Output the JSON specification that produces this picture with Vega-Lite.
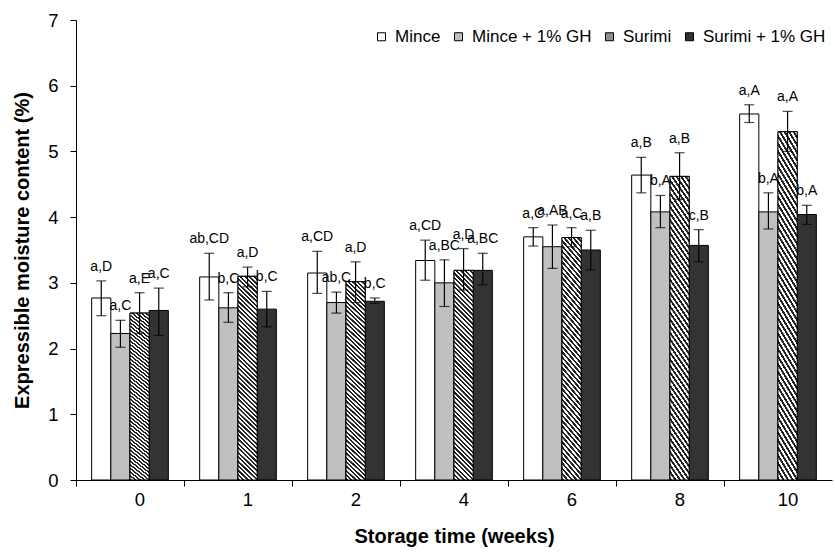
{
  "$schema": "https://vega.github.io/schema/vega-lite/v6.json",
  "width": 756,
  "height": 460,
  "autosize": {"type": "none"},
  "padding": {"left": 76, "top": 20, "right": 3, "bottom": 72},
  "background": "white",
  "config": {
    "view": {"stroke": null},
    "font": "Liberation Sans",
    "axis": {"domainColor": "black", "tickColor": "black", "labelColor": "black", "titleColor": "black", "grid": false}
  },
  "data": {
    "values": [
      {"week": 0, "treatment": "Mince", "mean": 2.77, "lo": 2.50, "hi": 3.03, "sig": "a,D"},
      {"week": 0, "treatment": "Mince + 1% GH", "mean": 2.23, "lo": 2.02, "hi": 2.43, "sig": "a,C"},
      {"week": 0, "treatment": "Surimi", "mean": 2.54, "lo": 2.23, "hi": 2.85, "sig": "a,E"},
      {"week": 0, "treatment": "Surimi + 1% GH", "mean": 2.58, "lo": 2.20, "hi": 2.92, "sig": "a,C"},
      {"week": 1, "treatment": "Mince", "mean": 3.09, "lo": 2.74, "hi": 3.45, "sig": "ab,CD"},
      {"week": 1, "treatment": "Mince + 1% GH", "mean": 2.62, "lo": 2.40, "hi": 2.85, "sig": "b,C"},
      {"week": 1, "treatment": "Surimi", "mean": 3.10, "lo": 2.94, "hi": 3.24, "sig": "a,D"},
      {"week": 1, "treatment": "Surimi + 1% GH", "mean": 2.60, "lo": 2.33, "hi": 2.87, "sig": "b,C"},
      {"week": 2, "treatment": "Mince", "mean": 3.15, "lo": 2.84, "hi": 3.48, "sig": "a,CD"},
      {"week": 2, "treatment": "Mince + 1% GH", "mean": 2.70, "lo": 2.54, "hi": 2.86, "sig": "ab,C"},
      {"week": 2, "treatment": "Surimi", "mean": 3.02, "lo": 2.70, "hi": 3.32, "sig": "a,D"},
      {"week": 2, "treatment": "Surimi + 1% GH", "mean": 2.72, "lo": 2.69, "hi": 2.77, "sig": "b,C"},
      {"week": 4, "treatment": "Mince", "mean": 3.34, "lo": 3.04, "hi": 3.65, "sig": "a,CD"},
      {"week": 4, "treatment": "Mince + 1% GH", "mean": 3.00, "lo": 2.64, "hi": 3.35, "sig": "a,BC"},
      {"week": 4, "treatment": "Surimi", "mean": 3.19, "lo": 2.89, "hi": 3.52, "sig": "a,D"},
      {"week": 4, "treatment": "Surimi + 1% GH", "mean": 3.19, "lo": 2.97, "hi": 3.45, "sig": "a,BC"},
      {"week": 6, "treatment": "Mince", "mean": 3.70, "lo": 3.56, "hi": 3.84, "sig": "a,C"},
      {"week": 6, "treatment": "Mince + 1% GH", "mean": 3.55, "lo": 3.22, "hi": 3.88, "sig": "a,AB"},
      {"week": 6, "treatment": "Surimi", "mean": 3.69, "lo": 3.55, "hi": 3.84, "sig": "a,C"},
      {"week": 6, "treatment": "Surimi + 1% GH", "mean": 3.50, "lo": 3.20, "hi": 3.80, "sig": "a,B"},
      {"week": 8, "treatment": "Mince", "mean": 4.64, "lo": 4.37, "hi": 4.91, "sig": "a,B"},
      {"week": 8, "treatment": "Mince + 1% GH", "mean": 4.08, "lo": 3.84, "hi": 4.33, "sig": "b,A"},
      {"week": 8, "treatment": "Surimi", "mean": 4.62, "lo": 4.27, "hi": 4.98, "sig": "a,B"},
      {"week": 8, "treatment": "Surimi + 1% GH", "mean": 3.57, "lo": 3.32, "hi": 3.81, "sig": "c,B"},
      {"week": 10, "treatment": "Mince", "mean": 5.57, "lo": 5.44, "hi": 5.71, "sig": "a,A"},
      {"week": 10, "treatment": "Mince + 1% GH", "mean": 4.08, "lo": 3.82, "hi": 4.37, "sig": "b,A"},
      {"week": 10, "treatment": "Surimi", "mean": 5.30, "lo": 5.00, "hi": 5.61, "sig": "a,A"},
      {"week": 10, "treatment": "Surimi + 1% GH", "mean": 4.04, "lo": 3.89, "hi": 4.18, "sig": "b,A"}
    ]
  },
  "encoding": {
    "x": {
      "field": "week",
      "type": "ordinal",
      "scale": {"paddingInner": 0.29, "paddingOuter": 0.145},
      "axis": {
        "title": "Storage time (weeks)",
        "titleFontSize": 20,
        "titleFontWeight": "bold",
        "titlePadding": 18,
        "labelFontSize": 18.5,
        "labelAngle": 0,
        "bandPosition": -0.204,
        "labelOffset": 10,
        "tickSize": 6,
        "labelPadding": 4
      }
    },
    "xOffset": {
      "field": "treatment",
      "type": "nominal",
      "sort": ["Mince", "Mince + 1% GH", "Surimi", "Surimi + 1% GH"],
      "scale": {"paddingInner": 0, "paddingOuter": 0}
    }
  },
  "layer": [
    {
      "mark": {"type": "bar", "stroke": "black", "strokeWidth": 1},
      "encoding": {
        "y": {
          "field": "mean",
          "type": "quantitative",
          "title": "Expressible moisture content (%)",
          "scale": {"domain": [0, 7]},
          "axis": {
            "values": [0, 1, 2, 3, 4, 5, 6, 7],
            "format": "d",
            "labelFontSize": 18.5,
            "tickSize": 6,
            "labelPadding": 12,
            "titleFontSize": 20,
            "titleFontWeight": "bold",
            "titlePadding": 15
          }
        },
        "fill": {
          "field": "treatment",
          "type": "nominal",
          "sort": ["Mince", "Mince + 1% GH", "Surimi", "Surimi + 1% GH"],
          "scale": {
            "domain": ["Mince", "Mince + 1% GH", "Surimi", "Surimi + 1% GH"],
            "range": ["#ffffff", "#c0c0c0", "#8f8f8f", "#333333"]
          },
          "legend": {
            "title": null,
            "orient": "none",
            "legendX": 297,
            "legendY": 8,
            "direction": "horizontal",
            "symbolType": "square",
            "symbolSize": 64,
            "symbolStrokeColor": "black",
            "symbolStrokeWidth": 1,
            "labelFontSize": 17,
            "labelColor": "black",
            "labelOffset": 5,
            "columnPadding": 9
          }
        }
      }
    },
    {
      "transform": [{"filter": "datum.treatment === 'Surimi'"}],
      "mark": {
        "type": "bar",
        "stroke": "black",
        "strokeWidth": 1,
        "fill": {
          "gradient": "linear",
          "x1": 0, "y1": 1, "x2": 0.0993, "y2": -0.0826,
          "stops": [
            {"offset": 0, "color": "#222"}, {"offset": 0.009, "color": "#222"}, {"offset": 0.01, "color": "#fff"}, {"offset": 0.019, "color": "#fff"},
            {"offset": 0.02, "color": "#222"}, {"offset": 0.029, "color": "#222"}, {"offset": 0.03, "color": "#fff"}, {"offset": 0.039, "color": "#fff"},
            {"offset": 0.04, "color": "#222"}, {"offset": 0.049, "color": "#222"}, {"offset": 0.05, "color": "#fff"}, {"offset": 0.059, "color": "#fff"},
            {"offset": 0.06, "color": "#222"}, {"offset": 0.069, "color": "#222"}, {"offset": 0.07, "color": "#fff"}, {"offset": 0.079, "color": "#fff"},
            {"offset": 0.08, "color": "#222"}, {"offset": 0.089, "color": "#222"}, {"offset": 0.09, "color": "#fff"}, {"offset": 0.099, "color": "#fff"},
            {"offset": 0.10, "color": "#222"}, {"offset": 0.109, "color": "#222"}, {"offset": 0.11, "color": "#fff"}, {"offset": 0.119, "color": "#fff"},
            {"offset": 0.12, "color": "#222"}, {"offset": 0.129, "color": "#222"}, {"offset": 0.13, "color": "#fff"}, {"offset": 0.139, "color": "#fff"},
            {"offset": 0.14, "color": "#222"}, {"offset": 0.149, "color": "#222"}, {"offset": 0.15, "color": "#fff"}, {"offset": 0.159, "color": "#fff"},
            {"offset": 0.16, "color": "#222"}, {"offset": 0.169, "color": "#222"}, {"offset": 0.17, "color": "#fff"}, {"offset": 0.179, "color": "#fff"},
            {"offset": 0.18, "color": "#222"}, {"offset": 0.189, "color": "#222"}, {"offset": 0.19, "color": "#fff"}, {"offset": 0.199, "color": "#fff"},
            {"offset": 0.20, "color": "#222"}, {"offset": 0.209, "color": "#222"}, {"offset": 0.21, "color": "#fff"}, {"offset": 0.219, "color": "#fff"},
            {"offset": 0.22, "color": "#222"}, {"offset": 0.229, "color": "#222"}, {"offset": 0.23, "color": "#fff"}, {"offset": 0.239, "color": "#fff"},
            {"offset": 0.24, "color": "#222"}, {"offset": 0.249, "color": "#222"}, {"offset": 0.25, "color": "#fff"}, {"offset": 0.259, "color": "#fff"},
            {"offset": 0.26, "color": "#222"}, {"offset": 0.269, "color": "#222"}, {"offset": 0.27, "color": "#fff"}, {"offset": 0.279, "color": "#fff"},
            {"offset": 0.28, "color": "#222"}, {"offset": 0.289, "color": "#222"}, {"offset": 0.29, "color": "#fff"}, {"offset": 0.299, "color": "#fff"},
            {"offset": 0.30, "color": "#222"}, {"offset": 0.309, "color": "#222"}, {"offset": 0.31, "color": "#fff"}, {"offset": 0.319, "color": "#fff"},
            {"offset": 0.32, "color": "#222"}, {"offset": 0.329, "color": "#222"}, {"offset": 0.33, "color": "#fff"}, {"offset": 0.339, "color": "#fff"},
            {"offset": 0.34, "color": "#222"}, {"offset": 0.349, "color": "#222"}, {"offset": 0.35, "color": "#fff"}, {"offset": 0.359, "color": "#fff"},
            {"offset": 0.36, "color": "#222"}, {"offset": 0.369, "color": "#222"}, {"offset": 0.37, "color": "#fff"}, {"offset": 0.379, "color": "#fff"},
            {"offset": 0.38, "color": "#222"}, {"offset": 0.389, "color": "#222"}, {"offset": 0.39, "color": "#fff"}, {"offset": 0.399, "color": "#fff"},
            {"offset": 0.40, "color": "#222"}, {"offset": 0.409, "color": "#222"}, {"offset": 0.41, "color": "#fff"}, {"offset": 0.419, "color": "#fff"},
            {"offset": 0.42, "color": "#222"}, {"offset": 0.429, "color": "#222"}, {"offset": 0.43, "color": "#fff"}, {"offset": 0.439, "color": "#fff"},
            {"offset": 0.44, "color": "#222"}, {"offset": 0.449, "color": "#222"}, {"offset": 0.45, "color": "#fff"}, {"offset": 0.459, "color": "#fff"},
            {"offset": 0.46, "color": "#222"}, {"offset": 0.469, "color": "#222"}, {"offset": 0.47, "color": "#fff"}, {"offset": 0.479, "color": "#fff"},
            {"offset": 0.48, "color": "#222"}, {"offset": 0.489, "color": "#222"}, {"offset": 0.49, "color": "#fff"}, {"offset": 0.499, "color": "#fff"},
            {"offset": 0.50, "color": "#222"}, {"offset": 0.509, "color": "#222"}, {"offset": 0.51, "color": "#fff"}, {"offset": 0.519, "color": "#fff"},
            {"offset": 0.52, "color": "#222"}, {"offset": 0.529, "color": "#222"}, {"offset": 0.53, "color": "#fff"}, {"offset": 0.539, "color": "#fff"},
            {"offset": 0.54, "color": "#222"}, {"offset": 0.549, "color": "#222"}, {"offset": 0.55, "color": "#fff"}, {"offset": 0.559, "color": "#fff"},
            {"offset": 0.56, "color": "#222"}, {"offset": 0.569, "color": "#222"}, {"offset": 0.57, "color": "#fff"}, {"offset": 0.579, "color": "#fff"},
            {"offset": 0.58, "color": "#222"}, {"offset": 0.589, "color": "#222"}, {"offset": 0.59, "color": "#fff"}, {"offset": 0.599, "color": "#fff"},
            {"offset": 0.60, "color": "#222"}, {"offset": 0.609, "color": "#222"}, {"offset": 0.61, "color": "#fff"}, {"offset": 0.619, "color": "#fff"},
            {"offset": 0.62, "color": "#222"}, {"offset": 0.629, "color": "#222"}, {"offset": 0.63, "color": "#fff"}, {"offset": 0.639, "color": "#fff"},
            {"offset": 0.64, "color": "#222"}, {"offset": 0.649, "color": "#222"}, {"offset": 0.65, "color": "#fff"}, {"offset": 0.659, "color": "#fff"},
            {"offset": 0.66, "color": "#222"}, {"offset": 0.669, "color": "#222"}, {"offset": 0.67, "color": "#fff"}, {"offset": 0.679, "color": "#fff"},
            {"offset": 0.68, "color": "#222"}, {"offset": 0.689, "color": "#222"}, {"offset": 0.69, "color": "#fff"}, {"offset": 0.699, "color": "#fff"},
            {"offset": 0.70, "color": "#222"}, {"offset": 0.709, "color": "#222"}, {"offset": 0.71, "color": "#fff"}, {"offset": 0.719, "color": "#fff"},
            {"offset": 0.72, "color": "#222"}, {"offset": 0.729, "color": "#222"}, {"offset": 0.73, "color": "#fff"}, {"offset": 0.739, "color": "#fff"},
            {"offset": 0.74, "color": "#222"}, {"offset": 0.749, "color": "#222"}, {"offset": 0.75, "color": "#fff"}, {"offset": 0.759, "color": "#fff"},
            {"offset": 0.76, "color": "#222"}, {"offset": 0.769, "color": "#222"}, {"offset": 0.77, "color": "#fff"}, {"offset": 0.779, "color": "#fff"},
            {"offset": 0.78, "color": "#222"}, {"offset": 0.789, "color": "#222"}, {"offset": 0.79, "color": "#fff"}, {"offset": 0.799, "color": "#fff"},
            {"offset": 0.80, "color": "#222"}, {"offset": 0.809, "color": "#222"}, {"offset": 0.81, "color": "#fff"}, {"offset": 0.819, "color": "#fff"},
            {"offset": 0.82, "color": "#222"}, {"offset": 0.829, "color": "#222"}, {"offset": 0.83, "color": "#fff"}, {"offset": 0.839, "color": "#fff"},
            {"offset": 0.84, "color": "#222"}, {"offset": 0.849, "color": "#222"}, {"offset": 0.85, "color": "#fff"}, {"offset": 0.859, "color": "#fff"},
            {"offset": 0.86, "color": "#222"}, {"offset": 0.869, "color": "#222"}, {"offset": 0.87, "color": "#fff"}, {"offset": 0.879, "color": "#fff"},
            {"offset": 0.88, "color": "#222"}, {"offset": 0.889, "color": "#222"}, {"offset": 0.89, "color": "#fff"}, {"offset": 0.899, "color": "#fff"},
            {"offset": 0.90, "color": "#222"}, {"offset": 0.909, "color": "#222"}, {"offset": 0.91, "color": "#fff"}, {"offset": 0.919, "color": "#fff"},
            {"offset": 0.92, "color": "#222"}, {"offset": 0.929, "color": "#222"}, {"offset": 0.93, "color": "#fff"}, {"offset": 0.939, "color": "#fff"},
            {"offset": 0.94, "color": "#222"}, {"offset": 0.949, "color": "#222"}, {"offset": 0.95, "color": "#fff"}, {"offset": 0.959, "color": "#fff"},
            {"offset": 0.96, "color": "#222"}, {"offset": 0.969, "color": "#222"}, {"offset": 0.97, "color": "#fff"}, {"offset": 0.979, "color": "#fff"},
            {"offset": 0.98, "color": "#222"}, {"offset": 0.989, "color": "#222"}, {"offset": 0.99, "color": "#fff"}, {"offset": 1, "color": "#fff"}
          ]
        }
      },
      "encoding": {
        "y": {"field": "mean", "type": "quantitative", "title": "Expressible moisture content (%)"}
      }
    },
    {
      "mark": {"type": "rule", "color": "black", "strokeWidth": 1.2},
      "encoding": {
        "y": {"field": "lo", "type": "quantitative", "title": "Expressible moisture content (%)"},
        "y2": {"field": "hi"}
      }
    },
    {
      "mark": {"type": "tick", "color": "black", "size": 10, "thickness": 1.2},
      "encoding": {
        "y": {"field": "lo", "type": "quantitative", "title": "Expressible moisture content (%)"}
      }
    },
    {
      "mark": {"type": "tick", "color": "black", "size": 10, "thickness": 1.2},
      "encoding": {
        "y": {"field": "hi", "type": "quantitative", "title": "Expressible moisture content (%)"}
      }
    },
    {
      "mark": {"type": "text", "fontSize": 14, "dy": -10, "baseline": "alphabetic", "color": "black"},
      "encoding": {
        "y": {"field": "hi", "type": "quantitative", "title": "Expressible moisture content (%)"},
        "text": {"field": "sig"}
      }
    }
  ]
}
